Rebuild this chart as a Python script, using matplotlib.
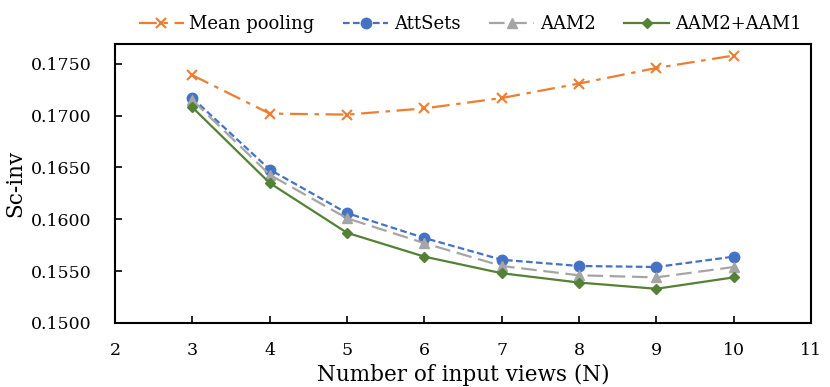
import numpy as np
import matplotlib
matplotlib.use("Agg")
import matplotlib.pyplot as plt

plt.rcParams["font.family"] = "DejaVu Serif"

views = [3, 4, 5, 6, 7, 8, 9, 10]
mean_pooling = [0.1739, 0.1702, 0.1701, 0.1707, 0.1717, 0.1731, 0.1746, 0.1758]
attsets = [0.1717, 0.1648, 0.1606, 0.1582, 0.1561, 0.1555, 0.1554, 0.1564]
aam2 = [0.1715, 0.1643, 0.1601, 0.1577, 0.1555, 0.1546, 0.1544, 0.1554]
aam2_aam1 = [0.1708, 0.1635, 0.1587, 0.1564, 0.1548, 0.1539, 0.1533, 0.1544]

yticks = [0.1500, 0.1550, 0.1600, 0.1650, 0.1700, 0.1750]

fig = plt.figure(figsize=(8.3, 3.87), dpi=100)
ax = fig.add_axes([0.1386, 0.1654, 0.8386, 0.7206])

ax.plot(views, mean_pooling, color="#ED7D31", linestyle=(0, (8, 3, 2, 3)),
        marker="x", markersize=6.5, markeredgewidth=1.5, lw=1.6, label="Mean pooling")
ax.plot(views, attsets, color="#4472C4", linestyle=(0, (3, 1.5)),
        marker="o", markersize=7.5, lw=1.6, label="AttSets")
ax.plot(views, aam2, color="#A5A5A5", linestyle=(0, (7, 3)),
        marker="^", markersize=7, lw=1.6, label="AAM2")
ax.plot(views, aam2_aam1, color="#548235", linestyle="-",
        marker="D", markersize=5, lw=1.6, label="AAM2+AAM1")

ax.set_xlim(2, 11)
ax.set_ylim(0.1500, 0.1769)
ax.set_xticks(range(2, 12))
ax.set_yticks(yticks)
ax.set_yticklabels([f"{v:.4f}" for v in yticks])
ax.tick_params(direction="in", length=5, width=1.2, labelsize=12.5, colors="black")
ax.tick_params(axis="x", pad=14)
ax.tick_params(axis="y", pad=17)
for s in ax.spines.values():
    s.set_linewidth(1.5)
    s.set_color("black")

ax.set_xlabel("Number of input views (N)", fontsize=15.5)
ax.set_ylabel("Sc-inv", fontsize=15.5)
ax.xaxis.set_label_coords(0.5, -0.145)
ax.yaxis.set_label_coords(-0.128, 0.5)

ax.legend(loc="lower center", bbox_to_anchor=(0.51, 1.0), ncol=4, frameon=False,
          fontsize=13, handlelength=2.5, columnspacing=1.6, handletextpad=0.3,
          borderaxespad=0.2)

fig.savefig("out.png", dpi=100)
